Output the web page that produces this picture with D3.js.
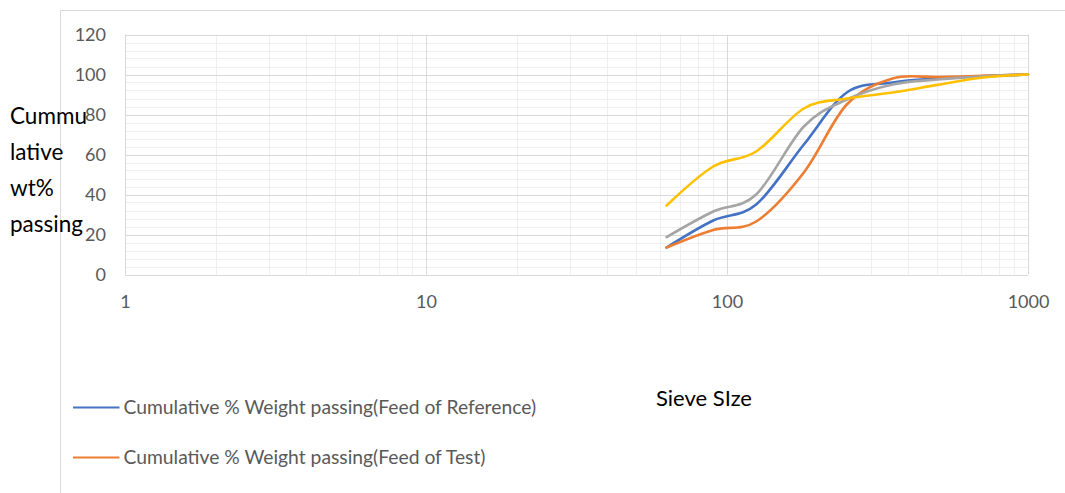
<!DOCTYPE html>
<html>
<head>
<meta charset="utf-8">
<script src="https://cdn.jsdelivr.net/npm/d3@7"></script>
<style>
  html, body { margin: 0; padding: 0; background: #fff; }
  svg { display: block; font-family: Lato, "Open Sans", sans-serif; }
</style>
</head>
<body>
<svg id="chart" width="1065" height="493"></svg>
<script>
// Sieve sizes (x, log scale) and cumulative passing percentages
const sieveSizes = [63, 90, 125, 180, 250, 355, 500, 710, 1000];
const feedReference = [13.5, 27, 35, 65, 91, 96, 98, 99.2, 100];
const feedTest      = [13.5, 22.3, 26.5, 51, 85, 98, 98.7, 99.3, 100];
const seriesGray    = [18.7, 31.5, 40, 74, 87.5, 95, 97.5, 99, 100];
const seriesYellow  = [34.5, 54, 61.5, 83, 88, 91, 94.8, 98.5, 100];

const xTickValues = [1, 10, 100, 1000];
const yTickValues = [0, 20, 40, 60, 80, 100, 120];
const legendNames = [
  "Cumulative % Weight passing(Feed of Reference)",
  "Cumulative % Weight passing(Feed of Test)"
];
const yTitleLines = ["Cummu", "lative", "wt%", "passing"];
const xTitle = "Sieve SIze";

const series = [
  { values: feedReference, color: "#4472C4" },
  { values: feedTest,      color: "#ED7D31" },
  { values: seriesGray,    color: "#A5A5A5" },
  { values: seriesYellow,  color: "#FFC000" }
];

const svg = d3.select("#chart");
const x = d3.scaleLog().domain([1, 1000]).range([125, 1028]);
const y = d3.scaleLinear().domain([0, 120]).range([274.5, 34.5]);

// chart frame (left and top edges)
svg.append("path")
  .attr("d", "M60.5,493 V10.5 H1065")
  .attr("fill", "none").attr("stroke", "#d9d9d9").attr("stroke-width", 1);

// minor gridlines
const minorX = [];
[1, 10, 100].forEach(d => { for (let k = 2; k <= 9; k++) minorX.push(d * k); });
const minorY = d3.range(0, 121, 4).filter(v => v % 20 !== 0);
const grid = svg.append("g");
grid.selectAll("line.mx").data(minorX).join("line")
  .attr("x1", d => Math.round(x(d)) + 0.5).attr("x2", d => Math.round(x(d)) + 0.5)
  .attr("y1", y(0)).attr("y2", y(120))
  .attr("stroke", "#efefef");
grid.selectAll("line.my").data(minorY).join("line")
  .attr("y1", d => Math.round(y(d)) + 0.5).attr("y2", d => Math.round(y(d)) + 0.5)
  .attr("x1", x(1)).attr("x2", x(1000))
  .attr("stroke", "#efefef");
// major gridlines
grid.selectAll("line.Mx").data(xTickValues).join("line")
  .attr("x1", d => Math.round(x(d)) + 0.5).attr("x2", d => Math.round(x(d)) + 0.5)
  .attr("y1", y(0)).attr("y2", y(120))
  .attr("stroke", "#d9d9d9");
grid.selectAll("line.My").data(yTickValues).join("line")
  .attr("y1", d => Math.round(y(d)) + 0.5).attr("y2", d => Math.round(y(d)) + 0.5)
  .attr("x1", x(1)).attr("x2", x(1000))
  .attr("stroke", "#d9d9d9");

// axes (labels only)
const xAxis = d3.axisBottom(x).tickValues(xTickValues).tickFormat(d3.format("d")).tickSize(0).tickPadding(21);
const gx = svg.append("g").attr("transform", `translate(0,${y(0)})`).call(xAxis);
const yAxis = d3.axisLeft(y).tickValues(yTickValues).tickSize(0).tickPadding(19);
const gy = svg.append("g").attr("transform", `translate(${x(1)},0)`).call(yAxis);
[gx, gy].forEach(g => {
  g.select(".domain").remove();
  g.selectAll("text").attr("fill", "#595959").style("font-size", "18px")
    .style("font-family", "Lato, sans-serif");
});

// series lines, smoothed
const line = d3.line()
  .x((d, i) => x(sieveSizes[i]))
  .y(d => y(d))
  .curve(d3.curveCardinal.tension(0));
svg.append("g").selectAll("path").data(series).join("path")
  .attr("d", s => line(s.values))
  .attr("fill", "none")
  .attr("stroke", s => s.color)
  .attr("stroke-width", 2.6)
  .attr("stroke-linecap", "round")
  .attr("stroke-linejoin", "round");

// y axis title, wrapped
svg.append("text")
  .attr("x", 10).attr("y", 124)
  .attr("fill", "#000").style("font-size", "22.5px")
  .selectAll("tspan").data(yTitleLines).join("tspan")
  .attr("x", 10).attr("dy", (d, i) => i === 0 ? 0 : 36)
  .text(d => d);

// x axis title
svg.append("text")
  .attr("x", 704).attr("y", 406)
  .attr("text-anchor", "middle")
  .attr("fill", "#000").style("font-size", "22px")
  .text(xTitle);

// legend
const legend = svg.append("g");
legendNames.forEach((name, i) => {
  const ly = 407.5 + i * 50;
  legend.append("line")
    .attr("x1", 73).attr("x2", 119.5).attr("y1", ly).attr("y2", ly)
    .attr("stroke", series[i].color).attr("stroke-width", 2.2);
  legend.append("text")
    .attr("x", 123.5).attr("y", ly + 6.3)
    .attr("fill", "#595959").style("font-size", "19.3px")
    .text(name);
});
</script>
</body>
</html>
